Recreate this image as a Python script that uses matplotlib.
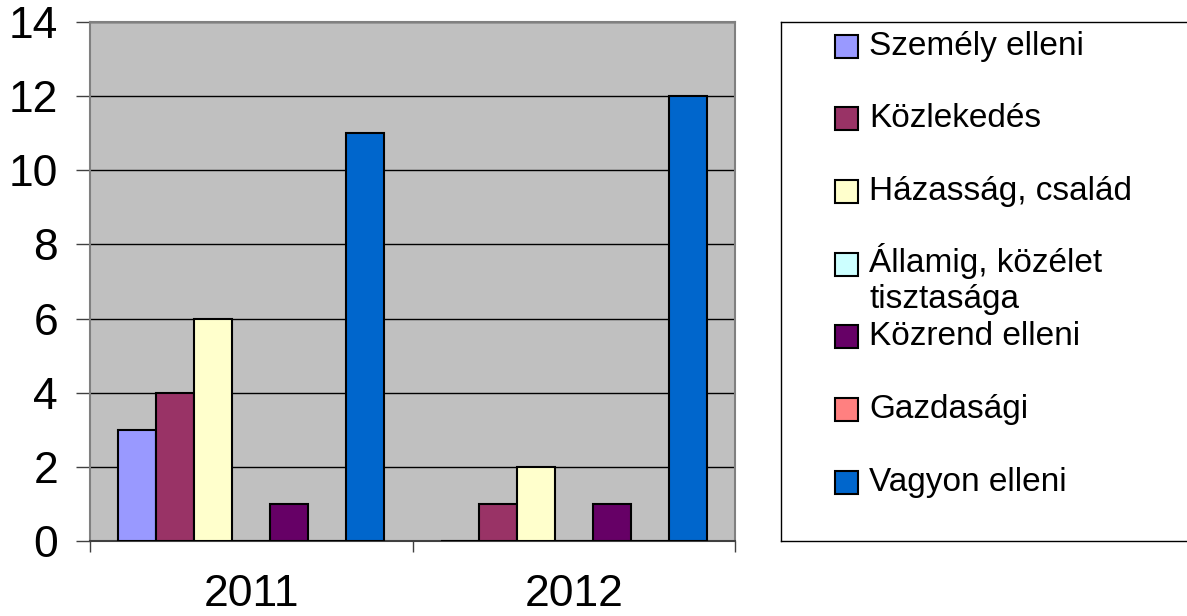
import matplotlib
matplotlib.use('Agg')
import matplotlib.pyplot as plt
from matplotlib.patches import Rectangle
import numpy as np

plt.rcParams['font.family'] = ['Liberation Sans', 'DejaVu Sans']

# adatok
years = ['2011', '2012']
series = ['Személy elleni', 'Közlekedés', 'Házasság, család',
          'Államig, közélet\ntisztasága', 'Közrend elleni', 'Gazdasági',
          'Vagyon elleni']
values_2011 = [3, 4, 6, 0, 1, 0, 11]
values_2012 = [0, 1, 2, 0, 1, 0, 12]
colors = ['#9999FF', '#993366', '#FFFFCC', '#CCFFFF', '#660066', '#FF8080', '#0066CC']

W, H = 1187, 616
fig = plt.figure(figsize=(W / 100, H / 100), dpi=100)
ax = fig.add_axes([90 / W, (H - 541) / H, (735 - 90) / W, (541 - 22) / H])
ax.set_facecolor('#C0C0C0')

data = np.array([values_2011, values_2012])
n = len(series)
width = 1 / (n + 1.5)
x = np.arange(len(years))
for i in range(n):
    ax.bar(x - width * (n - 1) / 2 + i * width, data[:, i], width,
           color=colors[i], edgecolor='black', linewidth=1.5, zorder=3)

ax.set_xlim(-0.5, 1.5)
ax.set_ylim(0, 14)
ax.set_yticks(range(0, 15, 2))
ax.grid(axis='y', color='black', linewidth=1, zorder=1)
ax.tick_params(axis='y', labelsize=32, length=10, width=1, pad=13, color='#404040')

ax.set_xticks([-0.5, 0.5, 1.5])
ax.set_xticklabels([])
ax.set_xticks(x, minor=True)
ax.set_xticklabels(years, minor=True)
ax.tick_params(axis='x', which='major', length=8, width=1, color='#404040')
ax.tick_params(axis='x', which='minor', length=0, labelsize=32, pad=24)

for s in ['top', 'right', 'left']:
    ax.spines[s].set_color('#808080')
    ax.spines[s].set_linewidth(1.5)
ax.spines['bottom'].set_color('#404040')
ax.spines['bottom'].set_linewidth(1.5)

# jelmagyarázat kézzel
lax = fig.add_axes([781 / W, (H - 541) / H, (1200 - 781) / W, (541 - 22) / H])
lax.set_xlim(0, 1200 - 781)
lax.set_ylim(541 - 22, 0)
lax.set_xticks([])
lax.set_yticks([])
for s in lax.spines.values():
    s.set_color('black')
    s.set_linewidth(1)
lax.patch.set_facecolor('white')

ys = [46 + 72.7 * i - 22 for i in range(n)]
for i in range(n):
    lax.add_patch(Rectangle((835 - 781, ys[i] - 11.5), 23, 23,
                            facecolor=colors[i], edgecolor='black', linewidth=1.5))
    if '\n' in series[i]:
        lax.text(869 - 781, ys[i] - 21, series[i], fontsize=24, va='top',
                 ha='left', linespacing=1.2)
    else:
        lax.text(869 - 781, ys[i], series[i], fontsize=24, va='center', ha='left')

fig.savefig('out.png', dpi=100)
